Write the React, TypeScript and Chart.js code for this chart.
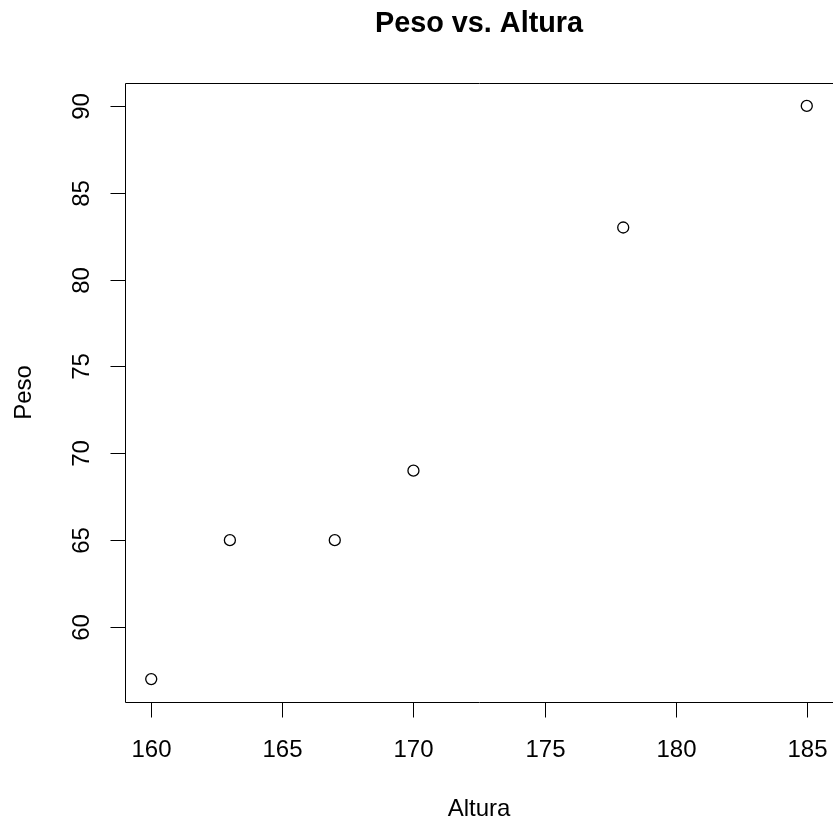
import React, { useEffect, useRef } from "react";
import { Chart, registerables } from "chart.js";

Chart.register(...registerables);

const alturas = [160, 163, 167, 170, 178, 185];
const pesos = [57, 65, 65, 69, 83, 90];
const xTicks = [160, 165, 170, 175, 180, 185];
const yTicks = [60, 65, 70, 75, 80, 85, 90];
const title = "Peso vs. Altura";
const xLabel = "Altura";
const yLabel = "Peso";

const FONT = "'Liberation Sans', Arial, Helvetica, sans-serif";

function extRange(vals: number[]) {
  const lo = Math.min(...vals);
  const hi = Math.max(...vals);
  const d = (hi - lo) * 0.04;
  return [lo - d, hi + d];
}

export default function App() {
  const ref = useRef<HTMLCanvasElement | null>(null);
  useEffect(() => {
    if (!ref.current) return;
    const [xmin, xmax] = extRange(alturas);
    const [ymin, ymax] = extRange(pesos);
    const rPlot = {
      id: "rplot",
      afterDraw(chart: any) {
        const ctx = chart.ctx as CanvasRenderingContext2D;
        const { left, right, top, bottom } = chart.chartArea;
        const xs = chart.scales.x;
        const ys = chart.scales.y;
        ctx.save();
        ctx.strokeStyle = "#000";
        ctx.fillStyle = "#000";
        ctx.lineWidth = 1;
        const L = Math.round(left) + 0.5;
        const T = Math.round(top) + 0.5;
        const B = Math.round(bottom) + 0.5;
        const R = Math.round(right) + 0.5;
        ctx.beginPath();
        ctx.moveTo(L, T);
        ctx.lineTo(R, T);
        ctx.lineTo(R, B);
        ctx.lineTo(L, B);
        ctx.closePath();
        ctx.stroke();
        // x ticks
        ctx.font = `24px ${FONT}`;
        ctx.textAlign = "center";
        ctx.textBaseline = "alphabetic";
        xTicks.forEach((v) => {
          const px = Math.round(xs.getPixelForValue(v)) + 0.5;
          ctx.beginPath();
          ctx.moveTo(px, B);
          ctx.lineTo(px, B + 15);
          ctx.stroke();
          ctx.fillText(String(v), px, 757);
        });
        // y ticks
        yTicks.forEach((v) => {
          const py = Math.round(ys.getPixelForValue(v)) + 0.5;
          ctx.beginPath();
          ctx.moveTo(L - 15, py);
          ctx.lineTo(L, py);
          ctx.stroke();
          ctx.save();
          ctx.translate(89, py);
          ctx.rotate(-Math.PI / 2);
          ctx.fillText(String(v), 0, 0);
          ctx.restore();
        });
        const cx = (left + right) / 2;
        const cy = (top + bottom) / 2;
        // title
        ctx.font = `bold 28.8px ${FONT}`;
        ctx.fillText(title, cx, 32);
        // axis labels
        ctx.font = `24px ${FONT}`;
        ctx.fillText(xLabel, cx, 816);
        ctx.save();
        ctx.translate(31, cy);
        ctx.rotate(-Math.PI / 2);
        ctx.fillText(yLabel, 0, 0);
        ctx.restore();
        ctx.restore();
      },
    };
    const chart = new Chart(ref.current, {
      type: "scatter",
      data: {
        datasets: [
          {
            data: alturas.map((a, i) => ({ x: a, y: pesos[i] })),
            pointStyle: "circle",
            pointRadius: 5.5,
            pointHoverRadius: 5.5,
            borderColor: "#000",
            backgroundColor: "rgba(0,0,0,0)",
            borderWidth: 1.3,
          },
        ],
      },
      options: {
        responsive: false,
        animation: false,
        layout: { autoPadding: false, padding: { left: 125, right: 0, top: 83, bottom: 118 } },
        scales: {
          x: { type: "linear", min: xmin, max: xmax, display: false },
          y: { type: "linear", min: ymin, max: ymax, display: false },
        },
        plugins: { legend: { display: false }, tooltip: { enabled: false } },
        events: [],
      },
      plugins: [rPlot],
    });
    return () => chart.destroy();
  }, []);
  return (
    <div style={{ position: "absolute", left: 0, top: 0, width: 833, height: 820, background: "#fff" }}>
      <canvas ref={ref} width={833} height={820} style={{ display: "block" }} />
    </div>
  );
}
